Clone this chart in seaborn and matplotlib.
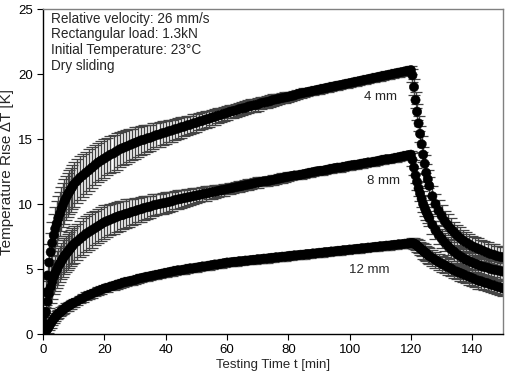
import matplotlib
matplotlib.use("Agg")
import matplotlib.pyplot as plt
import seaborn as sns
import pandas as pd

# sample times [min]
time_min = [0, 0.5, 1, 1.5, 2, 2.5, 3, 3.5, 4, 4.5, 5, 5.5, 6, 6.5, 7, 7.5, 8, 8.5, 9, 9.5, 10,
            11, 12, 13, 14, 15, 16, 17, 18, 19, 20,
            21, 22, 23, 24, 25, 26, 27, 28, 29, 30,
            31, 32, 33, 34, 35, 36, 37, 38, 39, 40,
            41, 42, 43, 44, 45, 46, 47, 48, 49, 50,
            51, 52, 53, 54, 55, 56, 57, 58, 59, 60,
            61, 62, 63, 64, 65, 66, 67, 68, 69, 70,
            71, 72, 73, 74, 75, 76, 77, 78, 79, 80,
            81, 82, 83, 84, 85, 86, 87, 88, 89, 90,
            91, 92, 93, 94, 95, 96, 97, 98, 99, 100,
            101, 102, 103, 104, 105, 106, 107, 108, 109, 110,
            111, 112, 113, 114, 115, 116, 117, 118, 119, 120,
            120.5, 121, 121.5, 122, 122.5, 123, 123.5, 124, 124.5, 125, 125.5, 126,
            127, 128, 129, 130, 131, 132, 133, 134, 135, 136,
            137, 138, 139, 140, 141, 142, 143, 144, 145, 146,
            147, 148, 149, 150]

rise_4mm = [0, 1.5, 3.2, 4.5, 5.5, 6.3, 7.0, 7.6, 8.1, 8.5, 8.9, 9.25, 9.6, 9.9, 10.2, 10.45, 10.7, 10.9, 11.1, 11.3, 11.5,
            11.75, 12.0, 12.2, 12.4, 12.6, 12.8, 13.0, 13.2, 13.35, 13.5,
            13.65, 13.8, 13.9, 14.05, 14.2, 14.3, 14.4, 14.5, 14.6, 14.7,
            14.8, 14.9, 14.95, 15.05, 15.1, 15.2, 15.3, 15.35, 15.45, 15.5,
            15.6, 15.65, 15.75, 15.8, 15.9, 15.95, 16.05, 16.1, 16.2, 16.25,
            16.35, 16.4, 16.5, 16.55, 16.65, 16.7, 16.8, 16.85, 16.95, 17.0,
            17.1, 17.15, 17.2, 17.3, 17.35, 17.4, 17.5, 17.55, 17.6, 17.65,
            17.75, 17.8, 17.85, 17.9, 18.0, 18.05, 18.1, 18.15, 18.2, 18.25,
            18.3, 18.35, 18.45, 18.5, 18.55, 18.6, 18.65, 18.7, 18.75, 18.8,
            18.85, 18.9, 18.95, 19.0, 19.05, 19.1, 19.15, 19.2, 19.25, 19.3,
            19.35, 19.4, 19.45, 19.5, 19.55, 19.6, 19.65, 19.7, 19.75, 19.8,
            19.85, 19.9, 19.95, 20.0, 20.05, 20.1, 20.15, 20.2, 20.25, 20.3,
            19.9, 19.0, 18.0, 17.1, 16.2, 15.4, 14.6, 13.8, 13.1, 12.4, 11.9, 11.4,
            10.6, 10.0, 9.5, 9.1, 8.7, 8.4, 8.1, 7.85, 7.6, 7.4,
            7.2, 7.05, 6.9, 6.75, 6.65, 6.55, 6.45, 6.35, 6.25, 6.15,
            6.1, 6.0, 5.95, 5.9]

rise_8mm = [0, 0.8, 1.7, 2.5, 3.1, 3.6, 4.0, 4.4, 4.7, 4.95, 5.2, 5.4, 5.6, 5.8, 6.0, 6.15, 6.3, 6.45, 6.6, 6.75, 6.9,
            7.1, 7.3, 7.5, 7.7, 7.85, 8.0, 8.15, 8.3, 8.45, 8.6,
            8.7, 8.8, 8.9, 9.0, 9.1, 9.15, 9.25, 9.3, 9.4, 9.45,
            9.55, 9.6, 9.7, 9.75, 9.8, 9.9, 9.95, 10.0, 10.05, 10.1,
            10.15, 10.2, 10.3, 10.35, 10.4, 10.45, 10.5, 10.55, 10.6, 10.65,
            10.7, 10.75, 10.8, 10.85, 10.9, 10.95, 11.0, 11.05, 11.1, 11.15,
            11.2, 11.25, 11.3, 11.35, 11.4, 11.45, 11.5, 11.55, 11.6, 11.65,
            11.7, 11.75, 11.75, 11.8, 11.85, 11.9, 11.95, 12.0, 12.05, 12.1,
            12.15, 12.2, 12.2, 12.25, 12.3, 12.35, 12.4, 12.45, 12.5, 12.55,
            12.55, 12.6, 12.65, 12.7, 12.75, 12.8, 12.8, 12.85, 12.9, 12.95,
            13.0, 13.0, 13.05, 13.1, 13.15, 13.2, 13.2, 13.25, 13.3, 13.35,
            13.4, 13.45, 13.45, 13.5, 13.55, 13.6, 13.65, 13.7, 13.75, 13.8,
            13.4, 12.8, 12.2, 11.7, 11.2, 10.8, 10.4, 10.0, 9.7, 9.4, 9.15, 8.9,
            8.4, 8.0, 7.65, 7.35, 7.05, 6.8, 6.55, 6.35, 6.15, 6.0,
            5.85, 5.7, 5.6, 5.5, 5.4, 5.3, 5.2, 5.15, 5.1, 5.0,
            4.95, 4.9, 4.85, 4.8]

rise_12mm = [0, 0.1, 0.25, 0.4, 0.6, 0.8, 1.0, 1.15, 1.3, 1.45, 1.55, 1.65, 1.75, 1.85, 1.95, 2.05, 2.1, 2.2, 2.25, 2.35, 2.4,
             2.5, 2.65, 2.75, 2.9, 3.0, 3.1, 3.2, 3.3, 3.4, 3.5,
             3.55, 3.65, 3.7, 3.8, 3.85, 3.95, 4.0, 4.05, 4.1, 4.15,
             4.25, 4.3, 4.35, 4.4, 4.45, 4.5, 4.55, 4.6, 4.65, 4.7,
             4.75, 4.8, 4.85, 4.9, 4.9, 4.95, 5.0, 5.05, 5.05, 5.1,
             5.15, 5.2, 5.2, 5.25, 5.3, 5.35, 5.35, 5.4, 5.45, 5.5,
             5.5, 5.55, 5.55, 5.6, 5.6, 5.65, 5.65, 5.7, 5.7, 5.75,
             5.75, 5.8, 5.8, 5.85, 5.85, 5.9, 5.9, 5.95, 5.95, 6.0,
             6.0, 6.05, 6.05, 6.1, 6.1, 6.15, 6.15, 6.2, 6.2, 6.25,
             6.25, 6.3, 6.3, 6.35, 6.35, 6.4, 6.4, 6.45, 6.45, 6.5,
             6.5, 6.55, 6.55, 6.6, 6.6, 6.65, 6.65, 6.7, 6.7, 6.75,
             6.75, 6.8, 6.8, 6.85, 6.85, 6.9, 6.9, 6.95, 6.95, 7.0,
             7.0, 6.95, 6.9, 6.8, 6.7, 6.6, 6.5, 6.4, 6.3, 6.2, 6.1, 6.0,
             5.85, 5.7, 5.55, 5.4, 5.3, 5.15, 5.05, 4.9, 4.8, 4.7,
             4.6, 4.5, 4.4, 4.3, 4.2, 4.1, 4.05, 3.95, 3.9, 3.8,
             3.75, 3.65, 3.6, 3.5]

err_4mm = [0.2, 0.6, 1.0, 1.2, 1.4, 1.5, 1.6, 1.6, 1.7, 1.7, 1.7, 1.7, 1.7, 1.7, 1.7, 1.7, 1.7, 1.7, 1.7, 1.7, 1.7,
           1.7, 1.7, 1.65, 1.6, 1.6, 1.6, 1.55, 1.5, 1.5, 1.5,
           1.45, 1.4, 1.4, 1.4, 1.35, 1.3, 1.3, 1.25, 1.2, 1.2,
           1.15, 1.1, 1.1, 1.05, 1.0, 1.0, 0.95, 0.95, 0.9, 0.9,
           0.85, 0.85, 0.8, 0.8, 0.8, 0.75, 0.75, 0.7, 0.7, 0.7,
           0.65, 0.65, 0.65, 0.6, 0.6, 0.6, 0.6, 0.55, 0.55, 0.55,
           0.5, 0.5, 0.5, 0.5, 0.5, 0.5, 0.5, 0.5, 0.5, 0.5,
           0.45, 0.45, 0.45, 0.45, 0.45, 0.4, 0.4, 0.4, 0.4, 0.4,
           0.35, 0.35, 0.35, 0.35, 0.35, 0.3, 0.3, 0.3, 0.3, 0.3,
           0.3, 0.3, 0.3, 0.3, 0.3, 0.3, 0.3, 0.3, 0.3, 0.3,
           0.3, 0.3, 0.3, 0.3, 0.3, 0.3, 0.3, 0.3, 0.3, 0.3,
           0.3, 0.3, 0.3, 0.3, 0.3, 0.3, 0.3, 0.3, 0.3, 0.3,
           0.5, 0.6, 0.6, 0.6, 0.6, 0.6, 0.6, 0.6, 0.7, 0.7, 0.7, 0.7,
           0.8, 0.8, 0.8, 0.8, 0.8, 0.8, 0.8, 0.8, 0.8, 0.8,
           0.8, 0.8, 0.8, 0.8, 0.8, 0.8, 0.8, 0.8, 0.8, 0.8,
           0.8, 0.8, 0.8, 0.8]

err_8mm = [0.2, 0.5, 0.8, 1.0, 1.1, 1.2, 1.3, 1.3, 1.4, 1.4, 1.4, 1.4, 1.4, 1.4, 1.4, 1.4, 1.4, 1.4, 1.4, 1.4, 1.4,
           1.4, 1.4, 1.4, 1.4, 1.35, 1.35, 1.3, 1.3, 1.3, 1.3,
           1.25, 1.2, 1.2, 1.15, 1.15, 1.1, 1.1, 1.05, 1.0, 1.0,
           0.95, 0.95, 0.9, 0.9, 0.85, 0.85, 0.8, 0.8, 0.8, 0.8,
           0.75, 0.75, 0.7, 0.7, 0.7, 0.65, 0.65, 0.6, 0.6, 0.6,
           0.55, 0.55, 0.55, 0.5, 0.5, 0.5, 0.45, 0.45, 0.45, 0.4,
           0.4, 0.4, 0.4, 0.4, 0.4, 0.4, 0.4, 0.4, 0.4, 0.4,
           0.35, 0.35, 0.35, 0.35, 0.35, 0.35, 0.35, 0.35, 0.35, 0.35,
           0.3, 0.3, 0.3, 0.3, 0.3, 0.3, 0.3, 0.3, 0.3, 0.3,
           0.3, 0.3, 0.3, 0.3, 0.3, 0.3, 0.3, 0.3, 0.3, 0.3,
           0.3, 0.3, 0.3, 0.3, 0.3, 0.3, 0.3, 0.3, 0.3, 0.3,
           0.3, 0.3, 0.3, 0.3, 0.3, 0.3, 0.3, 0.3, 0.3, 0.3,
           0.5, 0.6, 0.6, 0.6, 0.6, 0.6, 0.6, 0.6, 0.6, 0.6, 0.6, 0.6,
           0.7, 0.7, 0.7, 0.7, 0.7, 0.7, 0.7, 0.7, 0.7, 0.7,
           0.7, 0.7, 0.7, 0.7, 0.7, 0.7, 0.7, 0.7, 0.7, 0.7,
           0.7, 0.7, 0.7, 0.7]

err_12mm = [0.1, 0.2, 0.3, 0.3, 0.3, 0.3, 0.3, 0.3, 0.3, 0.3, 0.3, 0.3, 0.3, 0.3, 0.3, 0.3, 0.3, 0.3, 0.3, 0.3, 0.3,
            0.3, 0.3, 0.3, 0.3, 0.3, 0.3, 0.3, 0.3, 0.3, 0.3,
            0.3, 0.3, 0.3, 0.3, 0.3, 0.3, 0.3, 0.3, 0.3, 0.3,
            0.3, 0.3, 0.3, 0.3, 0.3, 0.3, 0.3, 0.3, 0.3, 0.3,
            0.3, 0.3, 0.3, 0.3, 0.3, 0.3, 0.3, 0.3, 0.3, 0.3,
            0.3, 0.3, 0.3, 0.3, 0.3, 0.3, 0.3, 0.3, 0.3, 0.3,
            0.3, 0.3, 0.3, 0.3, 0.3, 0.3, 0.3, 0.3, 0.3, 0.3,
            0.3, 0.3, 0.3, 0.3, 0.3, 0.3, 0.3, 0.3, 0.3, 0.3,
            0.3, 0.3, 0.3, 0.3, 0.3, 0.3, 0.3, 0.3, 0.3, 0.3,
            0.3, 0.3, 0.3, 0.3, 0.3, 0.3, 0.3, 0.3, 0.3, 0.3,
            0.3, 0.3, 0.3, 0.3, 0.3, 0.3, 0.3, 0.3, 0.3, 0.3,
            0.3, 0.3, 0.3, 0.3, 0.3, 0.3, 0.3, 0.3, 0.3, 0.3,
            0.4, 0.4, 0.4, 0.5, 0.5, 0.5, 0.5, 0.6, 0.6, 0.6, 0.6, 0.6,
            0.6, 0.6, 0.6, 0.6, 0.6, 0.6, 0.6, 0.6, 0.6, 0.6,
            0.6, 0.6, 0.6, 0.6, 0.6, 0.6, 0.6, 0.6, 0.6, 0.6,
            0.6, 0.6, 0.6, 0.6]

series_labels = ["4 mm", "8 mm", "12 mm"]
label_pos_t = [110, 111, 106.5]
label_pos_v = [18.2, 11.8, 4.9]

info_lines = ["Relative velocity: 26 mm/s",
              "Rectangular load: 1.3kN",
              "Initial Temperature: 23°C",
              "Dry sliding"]

sns.set_style("ticks")
plt.rcParams["font.family"] = ["Liberation Sans", "DejaVu Sans"]
plt.rcParams["font.size"] = 9.5

fig = plt.figure(figsize=(5.09, 3.76), dpi=100)
ax = fig.add_axes([0.0845, 0.1117, 0.9035, 0.8643])

frames = []
for lab, vals, errs in zip(series_labels, [rise_4mm, rise_8mm, rise_12mm],
                           [err_4mm, err_8mm, err_12mm]):
    frames.append(pd.DataFrame({"t": time_min, "dT": vals, "err": errs, "series": lab}))
df = pd.concat(frames, ignore_index=True)

for lab in series_labels:
    d = df[df["series"] == lab]
    ax.errorbar(d["t"], d["dT"], yerr=d["err"], fmt="none", ecolor="#444444",
                elinewidth=1.0, capsize=4, capthick=0.9, zorder=1)

sns.scatterplot(data=df, x="t", y="dT", hue="series",
                palette=["black", "black", "black"], s=44, edgecolor="black",
                linewidth=0.4, marker="o", legend=False, ax=ax, zorder=3)

for lab, tx, ty in zip(series_labels, label_pos_t, label_pos_v):
    ax.text(tx, ty, lab, ha="center", va="center", fontsize=9.5, zorder=5)

ax.text(0.018, 0.992, "\n".join(info_lines), transform=ax.transAxes,
        ha="left", va="top", fontsize=9.8, linespacing=1.17, zorder=5)

ax.set_xlim(0, 150)
ax.set_ylim(0, 25)
ax.set_xticks([0, 20, 40, 60, 80, 100, 120, 140])
ax.set_yticks([0, 5, 10, 15, 20, 25])
ax.set_xlabel("Testing Time t [min]", fontsize=9.5, labelpad=2)
ax.set_ylabel("Temperature Rise ΔT [K]", fontsize=11)
ax.yaxis.set_label_coords(-0.062, 0.5)
ax.tick_params(direction="out", length=4, width=0.8, labelsize=9.5, colors="black")
for side in ["left", "bottom"]:
    ax.spines[side].set_color("black")
    ax.spines[side].set_linewidth(1.0)
for side in ["top", "right"]:
    ax.spines[side].set_visible(True)
    ax.spines[side].set_color("#808080")
    ax.spines[side].set_linewidth(1.0)

fig.savefig("out.png", dpi=100)
